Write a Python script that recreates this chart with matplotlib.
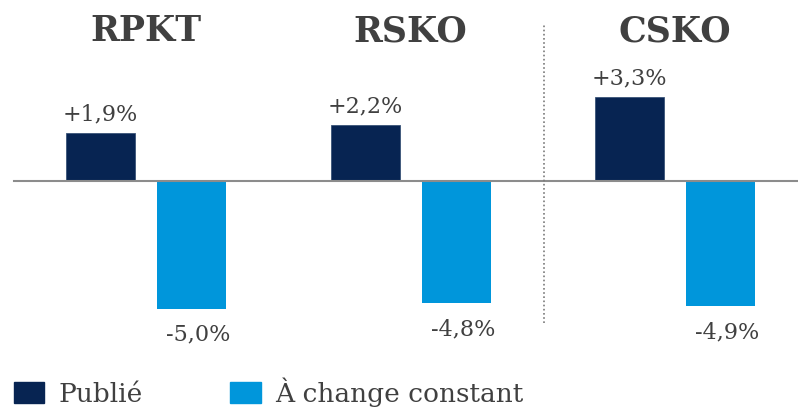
import matplotlib.pyplot as plt
from matplotlib.patches import Patch

groups = ["RPKT", "RSKO", "CSKO"]
publie = [1.9, 2.2, 3.3]
constant = [-5.0, -4.8, -4.9]
publie_labels = ["+1,9%", "+2,2%", "+3,3%"]
constant_labels = ["-5,0%", "-4,8%", "-4,9%"]
series_names = ["Publié", "À change constant"]

navy = "#072452"
blue = "#0096DB"
grey_txt = "#404040"

plt.rcParams["font.family"] = ["DejaVu Serif"]

fig = plt.figure(figsize=(7.98, 4.09), dpi=100)
ax = fig.add_axes([0, 0, 1, 1])

# pixel mapping: group spacing 264.5 px, 25.5 px per percent
xpx = 264.5
ypx = 25.5
ax.set_xlim(-146 / xpx, (798 - 146) / xpx)
ax.set_ylim(-(409 - 181) / ypx, 181 / ypx)

w = 69 / xpx
off = 45.5 / xpx
x = list(range(len(groups)))

b1 = ax.bar([i - off for i in x], publie, width=w, color=navy,
            edgecolor="#3a5478", linewidth=0.6)
b2 = ax.bar([i + off for i in x], constant, width=w, color=blue, linewidth=0)

for i in x:
    ax.annotate(publie_labels[i], (i - off, publie[i]), xytext=(0, 18),
                textcoords="offset pixels", ha="center", va="center",
                fontsize=16, color=grey_txt)
    ax.annotate(constant_labels[i], (i + off, constant[i]), xytext=(7, -26),
                textcoords="offset pixels", ha="center", va="center",
                fontsize=16, color=grey_txt)
    ax.text(i, (181 - 31) / ypx, groups[i], ha="center", va="center",
            fontsize=25, fontweight="bold", color=grey_txt)

# zero line and separator
ax.plot([(14 - 146) / xpx, 2.6], [0, 0], color="#8c8c8c", lw=1.5, zorder=1)
ax.plot([1.505, 1.505], [(181 - 323) / ypx, (181 - 25) / ypx],
        color="#7a7a7a", lw=1.2, ls=(0, (1, 1.5)))

ax.set_axis_off()

handles = [Patch(color=navy), Patch(color=blue)]
fig.legend(handles, series_names, loc="lower left",
           bbox_to_anchor=(14 / 798, 2 / 409), ncol=2, frameon=False,
           fontsize=19, borderpad=0, borderaxespad=0, handlelength=1.15,
           handleheight=0.85, handletextpad=0.55, columnspacing=3.3,
           labelcolor=grey_txt)

fig.savefig("out.png", dpi=100)
